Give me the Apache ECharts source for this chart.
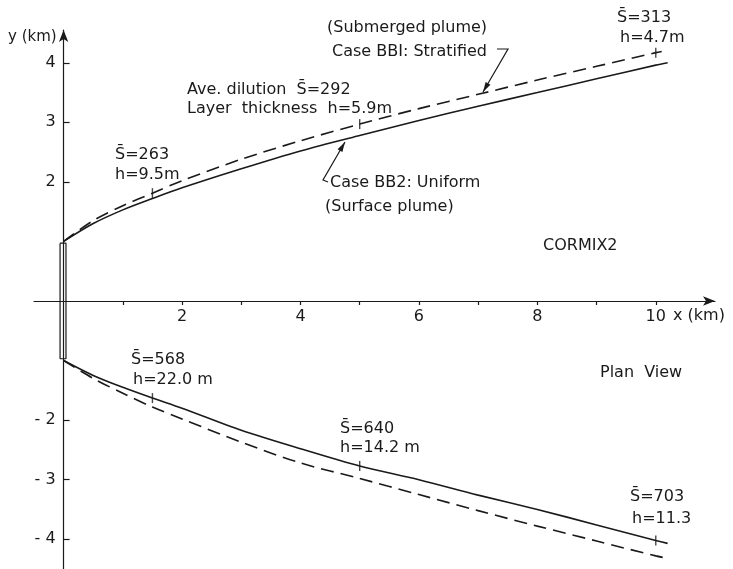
<!DOCTYPE html>
<html>
<head>
<meta charset="utf-8">
<script src="https://cdn.jsdelivr.net/npm/echarts@6/dist/echarts.min.js"></script>
<style>html,body{margin:0;padding:0;background:#fff}#c{width:733px;height:569px}</style>
</head>
<body>
<div id="c"></div>
<script>
// ---- data (km) ----
const xUpperSolid  = [0, 0.5, 1, 1.5, 2, 3, 4, 5, 6, 7, 8, 9, 10, 10.2];
const yUpperSolid  = [1.0, 1.3, 1.53, 1.72, 1.9, 2.22, 2.52, 2.78, 3.03, 3.27, 3.5, 3.73, 3.96, 4.0];
const xUpperDashed = [0, 0.5, 1, 1.5, 2, 3, 4, 5, 6, 7, 8, 9, 10, 10.1];
const yUpperDashed = [1.0, 1.35, 1.6, 1.81, 2.02, 2.38, 2.69, 2.97, 3.23, 3.47, 3.71, 3.94, 4.17, 4.19];
const xLowerSolid  = [0, 0.5, 1, 1.5, 2, 3, 4, 5, 6, 7, 8, 9, 10, 10.2];
const yLowerSolid  = [-1.0, -1.25, -1.45, -1.63, -1.8, -2.17, -2.48, -2.77, -3.0, -3.26, -3.5, -3.76, -4.02, -4.07];
const xLowerDashed = [0, 0.5, 1, 1.5, 2, 3, 4, 5, 6, 7, 8, 9, 10, 10.2];
const yLowerDashed = [-1.0, -1.3, -1.55, -1.78, -1.98, -2.37, -2.72, -2.98, -3.25, -3.52, -3.78, -4.03, -4.28, -4.32];
// diffuser outline
const xDiffuser = [-0.06, 0.04, 0.04, -0.06, -0.06];
const yDiffuser = [0.97, 0.97, -0.97, -0.97, 0.97];
// marked stations
const xMarksUpper = [1.5, 5, 10];
const yMarksUpper = [1.81, 2.97, 4.17];
const xMarksLower = [1.5, 5, 10];
const yMarksLower = [-1.63, -2.77, -4.02];
// ticks
const xTicks = [1, 2, 3, 4, 5, 6, 7, 8, 9, 10];
const xTickLabels = [2, 4, 6, 8, 10];
const yTicks = [-4, -3, -2, 2, 3, 4];
const yTickLabels = [-4, -3, -2, 2, 3, 4];

const zip = (a, b) => a.map((v, i) => [v, b[i]]);
const INK = '#1a1a1a';
const FONT = '"DejaVu Sans", sans-serif';

// layout
const W = 733, H = 569;
const G = { left: 34, right: 18, top: 30, bottom: 0 };
const X_MIN = -0.5, X_MAX = 11, Y_MIN = -4.5, Y_MAX = 4.55;
const gw = W - G.left - G.right, gh = H - G.top - G.bottom;
const xAxisOffset = -gh * (0 - Y_MIN) / (Y_MAX - Y_MIN);   // move x axis up to y = 0
const yAxisOffset = -gw * (0 - X_MIN) / (X_MAX - X_MIN);   // move y axis right to x = 0

function txt(x, y, s, size) {
  return { type: 'text', x: x, y: y, style: { text: s, font: (size || 16) + 'px ' + FONT, fill: INK, verticalAlign: 'middle' } };
}
function leader(points) {
  const n = points.length;
  const tip = points[n - 1], prev = points[n - 2];
  let dx = tip[0] - prev[0], dy = tip[1] - prev[1];
  const L = Math.hypot(dx, dy); dx /= L; dy /= L;
  const bx = tip[0] - 10 * dx, by = tip[1] - 10 * dy;
  const px = -dy * 2.8, py = dx * 2.8;
  return [
    { type: 'polyline', shape: { points: points }, style: { stroke: INK, lineWidth: 1.2, fill: null } },
    { type: 'polygon', shape: { points: [tip, [bx + px, by + py], [bx - px, by - py]] }, style: { fill: INK } }
  ];
}
const curve = (data, dashed) => ({
  type: 'line', data: data, smooth: 0.3, showSymbol: false,
  lineStyle: { color: INK, width: 1.6, type: dashed ? [13, 7] : 'solid' }
});

const chart = echarts.init(document.getElementById('c'));
chart.setOption({
  animation: false,
  backgroundColor: '#fff',
  grid: { left: G.left, right: G.right, top: G.top, bottom: G.bottom, outerBoundsMode: 'none', containLabel: false },
  xAxis: {
    type: 'value', min: X_MIN, max: X_MAX, position: 'bottom', offset: xAxisOffset,
    axisLine: { onZero: false, lineStyle: { color: INK, width: 1.2 }, symbol: ['none', 'arrow'], symbolSize: [7, 12] },
    axisTick: { show: true, customValues: xTicks, length: 4, lineStyle: { color: INK, width: 1.2 } },
    axisLabel: { customValues: xTickLabels, color: INK, fontSize: 16, fontFamily: FONT, margin: 8 },
    splitLine: { show: false }
  },
  yAxis: {
    type: 'value', min: Y_MIN, max: Y_MAX, position: 'left', offset: yAxisOffset,
    axisLine: { onZero: false, lineStyle: { color: INK, width: 1.2 }, symbol: ['none', 'arrow'], symbolSize: [7, 12] },
    axisTick: { show: true, customValues: yTicks, inside: true, length: 6, lineStyle: { color: INK, width: 1.2 } },
    axisLabel: { customValues: yTickLabels, color: INK, fontSize: 16, fontFamily: FONT, margin: 8,
      formatter: v => v < 0 ? '- ' + Math.abs(v) : String(v) },
    splitLine: { show: false }
  },
  series: [
    curve(zip(xUpperSolid, yUpperSolid), false),
    curve(zip(xUpperDashed, yUpperDashed), true),
    curve(zip(xLowerSolid, yLowerSolid), false),
    curve(zip(xLowerDashed, yLowerDashed), true),
    { type: 'line', data: zip(xDiffuser, yDiffuser), showSymbol: false,
      lineStyle: { color: INK, width: 1.2 } },
    { type: 'scatter', data: zip(xMarksUpper, yMarksUpper), symbol: 'rect', symbolSize: [1.4, 10],
      itemStyle: { color: INK } },
    { type: 'scatter', data: zip(xMarksLower, yMarksLower), symbol: 'rect', symbolSize: [1.4, 10],
      itemStyle: { color: INK } }
  ],
  graphic: [
    txt(8, 37, 'y (km)', 15),
    txt(673, 316, 'x (km)', 16),
    txt(327, 28, '(Submerged plume)'),
    txt(332, 52, 'Case BBI: Stratified'),
    txt(187, 90, 'Ave. dilution  S\u0304=292'),
    txt(187, 109, 'Layer  thickness  h=5.9m'),
    txt(115, 155, 'S\u0304=263'),
    txt(115, 175, 'h=9.5m'),
    txt(330, 183, 'Case BB2: Uniform'),
    txt(325, 207, '(Surface plume)'),
    txt(617, 18, 'S\u0304=313'),
    txt(620, 38, 'h=4.7m'),
    txt(543, 246, 'CORMIX2'),
    txt(600, 373, 'Plan  View'),
    txt(131, 360, 'S\u0304=568'),
    txt(133, 380, 'h=22.0 m'),
    txt(340, 429, 'S\u0304=640'),
    txt(340, 448, 'h=14.2 m'),
    txt(630, 497, 'S\u0304=703'),
    txt(632, 519, 'h=11.3'),
    ...leader([[497, 49], [508, 49], [483, 92]]),
    ...leader([[328, 182], [323, 180], [345, 142]])
  ]
});
</script>
</body>
</html>
